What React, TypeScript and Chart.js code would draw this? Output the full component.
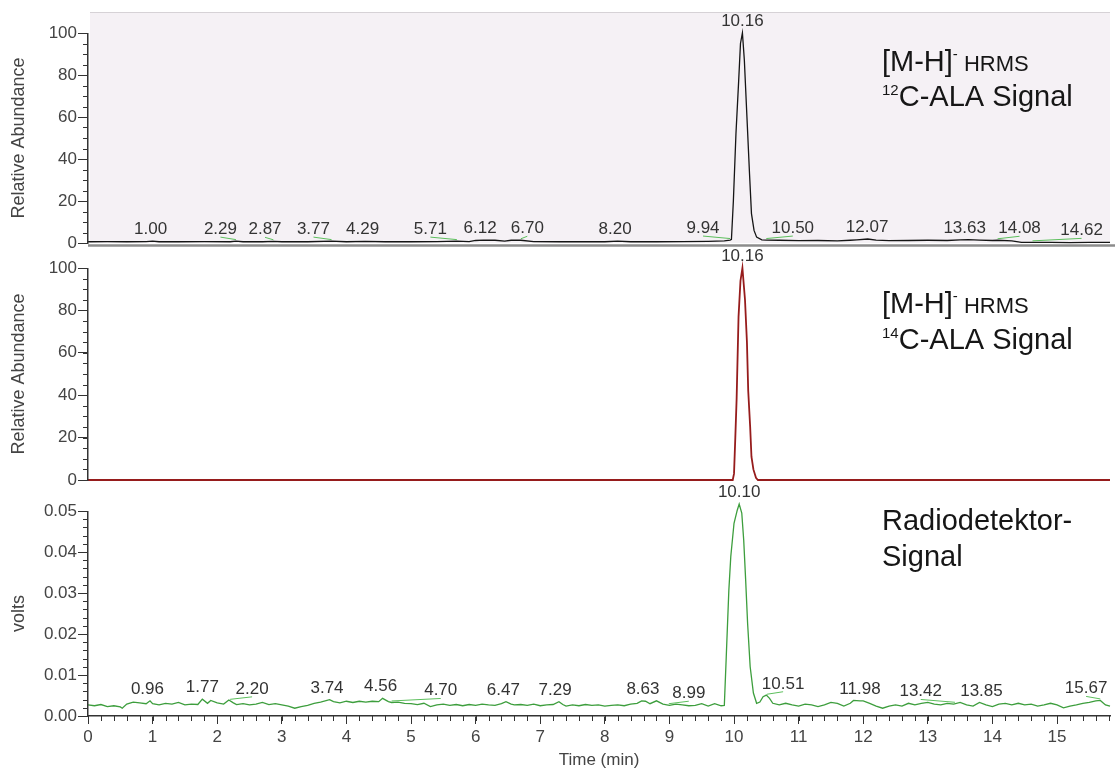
import React, { useEffect, useRef } from "react";
import { Chart, registerables } from "chart.js";

Chart.register(...registerables);

const FONT = '"Liberation Sans", Arial, sans-serif';

// ---------- data ----------
const timeMin = 0;
const timeMax = 15.82;
const timeTicks = [0, 1, 2, 3, 4, 5, 6, 7, 8, 9, 10, 11, 12, 13, 14, 15];
const abundanceTicks = [0, 20, 40, 60, 80, 100];
const voltTicks = [0, 0.01, 0.02, 0.03, 0.04, 0.05];

type Pt = [number, number];

// [time (min), relative abundance]
const ms12Trace: Pt[] = [
  [0, 0.6], [0.3, 0.7], [0.6, 0.6], [0.9, 0.7], [1.0, 0.9], [1.1, 0.6], [1.4, 0.6], [1.8, 0.7],
  [2.2, 0.6], [2.29, 0.9], [2.4, 0.6], [2.7, 0.6], [2.87, 0.8], [3.0, 0.6], [3.4, 0.6], [3.77, 0.9],
  [4.0, 0.6], [4.29, 0.8], [4.6, 0.6], [5.0, 0.6], [5.4, 0.7], [5.71, 0.9], [5.9, 0.7], [6.0, 1.2],
  [6.12, 1.4], [6.3, 1.3], [6.45, 0.9], [6.55, 1.3], [6.7, 1.3], [6.9, 0.7], [7.3, 0.6], [7.7, 0.6],
  [8.0, 0.6], [8.2, 0.9], [8.4, 0.6], [8.8, 0.6], [9.2, 0.7], [9.6, 0.8], [9.85, 1.0], [9.94, 1.4],
  [9.96, 1.7], [9.99, 20], [10.03, 52], [10.07, 76], [10.1, 95], [10.13, 100], [10.16, 87], [10.2, 60],
  [10.24, 33], [10.27, 14], [10.31, 6], [10.35, 2.8], [10.43, 1.5], [10.5, 1.4], [10.7, 1.3], [11.0, 1.1],
  [11.3, 1.2], [11.6, 1.0], [11.8, 1.3], [11.9, 1.5], [12.07, 1.9], [12.2, 1.4], [12.4, 1.1], [12.7, 1.2],
  [13.0, 1.3], [13.3, 1.2], [13.5, 1.5], [13.63, 1.6], [13.8, 1.4], [14.0, 1.2], [14.08, 1.3], [14.3, 1.0],
  [14.45, 0.3], [14.62, 0.3], [14.9, 0.3], [15.2, 0.2], [15.5, 0.3], [15.82, 0.3],
];

const ms14Trace: Pt[] = [
  [0, 0], [9.98, 0], [10.0, 3], [10.02, 20], [10.04, 38], [10.07, 77], [10.1, 94], [10.13, 100],
  [10.17, 85], [10.2, 65], [10.22, 42], [10.25, 25], [10.27, 11], [10.3, 5], [10.34, 1], [10.37, 0],
  [15.82, 0],
];

// [time (min), volts]
const radioTrace: Pt[] = [
  [0.0, 0.0027], [0.1, 0.0025], [0.2, 0.0028], [0.3, 0.0023], [0.4, 0.0025], [0.5, 0.0022], [0.53, 0.0019],
  [0.6, 0.0029], [0.7, 0.0034], [0.8, 0.0032], [0.9, 0.003], [0.96, 0.0037], [1.0, 0.003], [1.1, 0.0027],
  [1.2, 0.0031], [1.3, 0.0029], [1.4, 0.0033], [1.5, 0.0027], [1.6, 0.0029], [1.7, 0.0028], [1.77, 0.0041],
  [1.85, 0.0031], [1.9, 0.0038], [2.0, 0.0032], [2.1, 0.0029], [2.18, 0.0039], [2.25, 0.0032], [2.3, 0.0028],
  [2.4, 0.003], [2.5, 0.0027], [2.6, 0.0029], [2.7, 0.0033], [2.8, 0.0028], [2.9, 0.003], [3.0, 0.0027],
  [3.1, 0.0024], [3.2, 0.0019], [3.3, 0.0023], [3.4, 0.0026], [3.5, 0.0031], [3.6, 0.0034], [3.74, 0.004],
  [3.8, 0.0035], [3.9, 0.0032], [4.0, 0.0036], [4.1, 0.0033], [4.2, 0.0036], [4.3, 0.0034], [4.4, 0.0036],
  [4.5, 0.0035], [4.56, 0.0043], [4.65, 0.0035], [4.7, 0.0033], [4.8, 0.0034], [4.9, 0.0031], [5.0, 0.003],
  [5.1, 0.0028], [5.2, 0.0031], [5.3, 0.0023], [5.4, 0.0027], [5.5, 0.0029], [5.6, 0.0026], [5.7, 0.0028],
  [5.8, 0.0025], [5.9, 0.0028], [6.0, 0.0026], [6.1, 0.0029], [6.2, 0.0027], [6.3, 0.0026], [6.4, 0.003],
  [6.47, 0.0035], [6.55, 0.0029], [6.6, 0.0027], [6.7, 0.0028], [6.8, 0.0026], [6.9, 0.0029], [7.0, 0.0025],
  [7.1, 0.0027], [7.2, 0.0028], [7.29, 0.0035], [7.35, 0.0028], [7.4, 0.0024], [7.5, 0.0027], [7.6, 0.0025],
  [7.7, 0.0028], [7.8, 0.0026], [7.9, 0.0027], [8.0, 0.0024], [8.1, 0.0026], [8.2, 0.0027], [8.3, 0.0025],
  [8.4, 0.0029], [8.5, 0.0031], [8.57, 0.0037], [8.63, 0.0036], [8.7, 0.003], [8.8, 0.0037], [8.9, 0.0029],
  [9.0, 0.0026], [9.1, 0.0029], [9.2, 0.0027], [9.3, 0.0025], [9.4, 0.0026], [9.5, 0.003], [9.6, 0.0024],
  [9.7, 0.003], [9.8, 0.0025], [9.85, 0.0026], [9.88, 0.0145], [9.92, 0.0307], [9.95, 0.0389], [10.0, 0.047],
  [10.05, 0.0502], [10.08, 0.0517], [10.12, 0.0495], [10.15, 0.0429], [10.18, 0.0332], [10.21, 0.0227],
  [10.25, 0.012], [10.3, 0.0056], [10.35, 0.0031], [10.4, 0.0034], [10.45, 0.0047], [10.5, 0.0051],
  [10.55, 0.0043], [10.6, 0.0031], [10.7, 0.0027], [10.8, 0.0031], [10.9, 0.0027], [11.0, 0.0024],
  [11.1, 0.0029], [11.2, 0.0027], [11.3, 0.0023], [11.4, 0.0027], [11.5, 0.0033], [11.6, 0.0031],
  [11.7, 0.0024], [11.8, 0.0031], [11.85, 0.0038], [11.95, 0.0037], [12.0, 0.0037], [12.1, 0.0031],
  [12.2, 0.0024], [12.3, 0.0019], [12.4, 0.0024], [12.5, 0.0027], [12.6, 0.0024], [12.7, 0.0031],
  [12.8, 0.0027], [12.9, 0.0031], [13.0, 0.0033], [13.1, 0.0029], [13.2, 0.0027], [13.3, 0.0031],
  [13.4, 0.0029], [13.5, 0.0033], [13.6, 0.0027], [13.7, 0.0024], [13.8, 0.0033], [13.9, 0.0027],
  [14.0, 0.0023], [14.1, 0.0029], [14.2, 0.0031], [14.3, 0.0027], [14.4, 0.0031], [14.5, 0.0027],
  [14.6, 0.0029], [14.7, 0.0024], [14.8, 0.0027], [14.9, 0.0031], [15.0, 0.0027], [15.1, 0.002],
  [15.2, 0.0024], [15.3, 0.0027], [15.4, 0.0031], [15.5, 0.0033], [15.6, 0.0037], [15.67, 0.0038],
  [15.75, 0.0027], [15.82, 0.0024],
];

// peak annotations: retention time text, and where the software placed the label (min)
const ms12LabelTexts = ["1.00", "2.29", "2.87", "3.77", "4.29", "5.71", "6.12", "6.70", "8.20", "9.94", "10.50", "12.07", "13.63", "14.08", "14.62"];
const ms12LabelPos = [0.97, 2.05, 2.74, 3.49, 4.25, 5.3, 6.07, 6.8, 8.16, 9.52, 10.91, 12.06, 13.57, 14.42, 15.38];
const ms12Apex = "10.16";

const ms14LabelTexts: string[] = [];
const ms14LabelPos: number[] = [];
const ms14Apex = "10.16";

const radioLabelTexts = ["0.96", "1.77", "2.20", "3.74", "4.56", "4.70", "6.47", "7.29", "8.63", "8.99", "10.51", "11.98", "13.42", "13.85", "15.67"];
const radioLabelPos = [0.92, 1.77, 2.54, 3.7, 4.53, 5.46, 6.43, 7.23, 8.59, 9.3, 10.76, 11.95, 12.89, 13.83, 15.45];
const radioApex = "10.10";

// ---------- helpers ----------
type Run = { text: string; size: number; dy?: number };
type Note = { x: number; y: number; runs: Run[] };

function traceAt(trace: Pt[], t: number): number {
  for (let i = 1; i < trace.length; i++) {
    if (trace[i][0] >= t) {
      const [t0, v0] = trace[i - 1];
      const [t1, v1] = trace[i];
      return t1 === t0 ? v1 : v0 + ((v1 - v0) * (t - t0)) / (t1 - t0);
    }
  }
  return trace[trace.length - 1][1];
}

interface Panel {
  top: number;
  height: number;
  padTop: number;
  padBottom: number;
  trace: Pt[];
  color: string;
  lineWidth: number;
  yMax: number;
  yTicks: number[];
  yMinor: number;
  yTitle: string;
  yDecimals: number;
  labelTexts: string[];
  labelPos: number[];
  apex: string;
  notes: Note[];
  lavender: boolean;
  greyBase: boolean;
  xAxis: boolean;
}

function decorPlugin(p: Panel) {
  return {
    id: "decor",
    beforeDraw(chart: any) {
      if (!p.lavender) return;
      const { ctx, chartArea: a } = chart;
      ctx.save();
      ctx.fillStyle = "#f5f1f5";
      ctx.fillRect(a.left + 2, 12, a.right - a.left - 2, a.bottom - 12);
      ctx.strokeStyle = "#d6d2d6";
      ctx.lineWidth = 1;
      ctx.beginPath();
      ctx.moveTo(a.left + 2, 12.5);
      ctx.lineTo(a.right, 12.5);
      ctx.stroke();
      ctx.restore();
    },
    afterDraw(chart: any) {
      const { ctx, chartArea: a, scales } = chart;
      const xs = scales.x;
      const ys = scales.y;
      ctx.save();
      // grey baseline under panel 1
      if (p.greyBase) {
        ctx.strokeStyle = "#8c8c8c";
        ctx.lineWidth = 2.5;
        ctx.beginPath();
        ctx.moveTo(a.left, a.bottom + 2.5);
        ctx.lineTo(a.right + 5, a.bottom + 2.5);
        ctx.stroke();
      }
      // y axis line (0 .. top tick)
      const yTop = p.yTicks[p.yTicks.length - 1];
      ctx.strokeStyle = "#333";
      ctx.lineWidth = 1.5;
      ctx.beginPath();
      ctx.moveTo(a.left - 0.25, ys.getPixelForValue(0) + 1);
      ctx.lineTo(a.left - 0.25, ys.getPixelForValue(yTop));
      ctx.stroke();
      // minor y ticks
      ctx.lineWidth = 1;
      ctx.beginPath();
      const ny = Math.round(yTop / p.yMinor);
      for (let i = 0; i <= ny; i++) {
        const y = Math.round(ys.getPixelForValue(i * p.yMinor)) + 0.5;
        ctx.moveTo(a.left - 5, y);
        ctx.lineTo(a.left, y);
      }
      ctx.stroke();
      // minor x ticks
      if (p.xAxis) {
        ctx.beginPath();
        for (let i = 0; i * 0.2 <= timeMax; i++) {
          const x = Math.round(xs.getPixelForValue(i * 0.2)) + 0.5;
          ctx.moveTo(x, a.bottom);
          ctx.lineTo(x, a.bottom + 5);
        }
        ctx.stroke();
      }
      // peak labels
      ctx.font = `17px ${FONT}`;
      ctx.fillStyle = "#333";
      ctx.textAlign = "center";
      ctx.textBaseline = "alphabetic";
      p.labelTexts.forEach((txt, i) => {
        const pos = p.labelPos[i];
        const rt = parseFloat(txt);
        const v = Math.max(traceAt(p.trace, pos), traceAt(p.trace, rt));
        const px = xs.getPixelForValue(pos);
        const py = ys.getPixelForValue(v) - 7;
        ctx.fillText(txt, px, py);
        if (Math.abs(pos - rt) > 0.08) {
          ctx.strokeStyle = "#5cbf5c";
          ctx.lineWidth = 1;
          ctx.beginPath();
          ctx.moveTo(px, py + 3);
          ctx.lineTo(xs.getPixelForValue(rt), ys.getPixelForValue(traceAt(p.trace, rt)) - 1.5);
          ctx.stroke();
        }
      });
      const apex = p.trace.reduce((m, q) => (q[1] > m[1] ? q : m), p.trace[0]);
      ctx.fillText(p.apex, xs.getPixelForValue(apex[0]), ys.getPixelForValue(apex[1]) - 7);
      // text notes
      ctx.fillStyle = "#161616";
      ctx.textAlign = "left";
      p.notes.forEach((n) => {
        let x = n.x;
        n.runs.forEach((r) => {
          ctx.font = `${r.size}px ${FONT}`;
          ctx.fillText(r.text, x, n.y + (r.dy || 0));
          x += ctx.measureText(r.text).width;
        });
      });
      ctx.restore();
    },
  };
}

const panels: Panel[] = [
  {
    top: 0, height: 256, padTop: 33, padBottom: 13,
    trace: ms12Trace, color: "#151515", lineWidth: 1.3,
    yMax: 100, yTicks: abundanceTicks, yMinor: 5, yTitle: "Relative Abundance", yDecimals: 0,
    labelTexts: ms12LabelTexts, labelPos: ms12LabelPos, apex: ms12Apex,
    notes: [
      { x: 882, y: 71, runs: [{ text: "[M-H]", size: 29 }, { text: "-", size: 15, dy: -12 }, { text: " HRMS", size: 22 }] },
      { x: 882, y: 106, runs: [{ text: "12", size: 15, dy: -11 }, { text: "C-ALA Signal", size: 29 }] },
    ],
    lavender: true, greyBase: true, xAxis: false,
  },
  {
    top: 243, height: 250, padTop: 25, padBottom: 13,
    trace: ms14Trace, color: "#961c1c", lineWidth: 1.8,
    yMax: 100, yTicks: abundanceTicks, yMinor: 5, yTitle: "Relative Abundance", yDecimals: 0,
    labelTexts: ms14LabelTexts, labelPos: ms14LabelPos, apex: ms14Apex,
    notes: [
      { x: 882, y: 70, runs: [{ text: "[M-H]", size: 29 }, { text: "-", size: 15, dy: -12 }, { text: " HRMS", size: 22 }] },
      { x: 882, y: 106, runs: [{ text: "14", size: 15, dy: -11 }, { text: "C-ALA Signal", size: 29 }] },
    ],
    lavender: false, greyBase: false, xAxis: false,
  },
  {
    top: 485, height: 286, padTop: 26, padBottom: 0,
    trace: radioTrace, color: "#3d9e3d", lineWidth: 1.3,
    yMax: 0.05, yTicks: voltTicks, yMinor: 0.002, yTitle: "volts", yDecimals: 2,
    labelTexts: radioLabelTexts, labelPos: radioLabelPos, apex: radioApex,
    notes: [
      { x: 882, y: 45, runs: [{ text: "Radiodetektor-", size: 29 }] },
      { x: 882, y: 81, runs: [{ text: "Signal", size: 29 }] },
    ],
    lavender: false, greyBase: false, xAxis: true,
  },
];

function PanelChart({ p }: { p: Panel }) {
  const ref = useRef<HTMLCanvasElement | null>(null);
  useEffect(() => {
    if (!ref.current) return;
    const chart = new Chart(ref.current, {
      type: "line",
      data: {
        datasets: [
          {
            data: p.trace.map(([x, y]) => ({ x, y })),
            borderColor: p.color,
            borderWidth: p.lineWidth,
            pointRadius: 0,
            tension: 0,
            fill: false,
            clip: false as any,
          },
        ],
      },
      options: {
        responsive: false,
        animation: false,
        events: [],
        layout: { padding: { left: 0, right: 5, top: p.padTop, bottom: p.padBottom } },
        plugins: { legend: { display: false }, tooltip: { enabled: false } },
        scales: {
          x: {
            type: "linear",
            min: timeMin,
            max: timeMax,
            display: p.xAxis,
            afterBuildTicks: (axis: any) => {
              axis.ticks = timeTicks.map((v) => ({ value: v }));
            },
            afterFit: (axis: any) => {
              axis.height = p.xAxis ? 55 : 0;
            },
            border: { display: true, color: "#333", width: 1.5 },
            grid: { display: true, drawOnChartArea: false, drawTicks: true, tickLength: 8, color: "#333" },
            ticks: {
              color: "#444",
              font: { family: FONT, size: 17 },
              padding: 3,
              maxRotation: 0,
              autoSkip: false,
              callback: (v: any) => String(v),
            },
            title: {
              display: true,
              text: "Time (min)",
              color: "#444",
              font: { family: FONT, size: 17 },
              padding: { top: 0, bottom: 0 },
            },
          },
          y: {
            type: "linear",
            min: 0,
            max: p.yMax,
            afterBuildTicks: (axis: any) => {
              axis.ticks = p.yTicks.map((v) => ({ value: v }));
            },
            afterFit: (axis: any) => {
              axis.width = 88;
            },
            border: { display: false },
            grid: { display: true, drawOnChartArea: false, drawTicks: true, tickLength: 10, color: "#333" },
            ticks: {
              color: "#444",
              font: { family: FONT, size: 17 },
              padding: 1,
              autoSkip: false,
              callback: (v: any) => Number(v).toFixed(p.yDecimals),
            },
            title: {
              display: true,
              text: p.yTitle,
              color: "#444",
              font: { family: FONT, size: 18 },
              padding: { top: 8, bottom: 0 },
            },
          },
        },
      },
      plugins: [decorPlugin(p)],
    });
    return () => chart.destroy();
  }, [p]);
  return (
    <canvas
      ref={ref}
      width={1115}
      height={p.height}
      style={{ position: "absolute", left: 0, top: p.top, width: 1115, height: p.height }}
    />
  );
}

export default function App() {
  return (
    <div style={{ position: "fixed", left: 0, top: 0, width: 1115, height: 771, background: "#ffffff", overflow: "hidden" }}>
      {panels.map((p, i) => (
        <PanelChart key={i} p={p} />
      ))}
    </div>
  );
}
